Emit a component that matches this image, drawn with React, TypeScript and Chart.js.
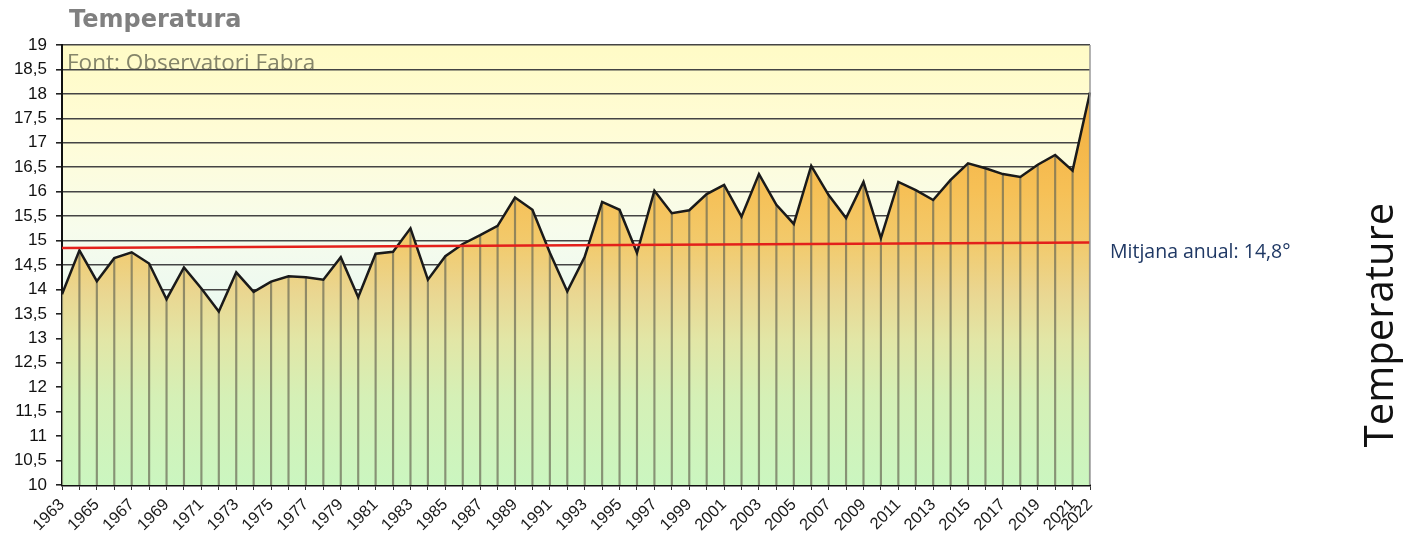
import React, { useEffect, useRef } from "react";
import { Chart, registerables } from "chart.js";

Chart.register(...registerables);

const years: string[] = [
  "1963", "1964", "1965", "1966", "1967", "1968", "1969", "1970", "1971", "1972",
  "1973", "1974", "1975", "1976", "1977", "1978", "1979", "1980", "1981", "1982",
  "1983", "1984", "1985", "1986", "1987", "1988", "1989", "1990", "1991", "1992",
  "1993", "1994", "1995", "1996", "1997", "1998", "1999", "2000", "2001", "2002",
  "2003", "2004", "2005", "2006", "2007", "2008", "2009", "2010", "2011", "2012",
  "2013", "2014", "2015", "2016", "2017", "2018", "2019", "2020", "2021", "2022",
];

const temperatures: number[] = [
  13.9, 14.8, 14.17, 14.64, 14.76, 14.53, 13.8, 14.45, 14.02, 13.55,
  14.35, 13.95, 14.16, 14.27, 14.25, 14.2, 14.66, 13.84, 14.73, 14.77,
  15.25, 14.2, 14.68, 14.93, 15.11, 15.3, 15.88, 15.63, 14.75, 13.96,
  14.67, 15.79, 15.63, 14.75, 16.02, 15.56, 15.62, 15.95, 16.14, 15.49,
  16.36, 15.73, 15.34, 16.53, 15.93, 15.46, 16.2, 15.05, 16.2, 16.03,
  15.83, 16.24, 16.58, 16.48, 16.36, 16.3, 16.55, 16.75, 16.43, 18.03,
];

// red average line end values (first and last year)
const meanStart = 14.85;
const meanEnd = 14.96;

const yMin = 10;
const yMax = 19;
const yStep = 0.5;

const titleText = "Temperatura";
const sourceText = "Font: Observatori Fabra";
const meanLabel = "Mitjana anual: 14,8°";
const sideLabel = "Temperature";

const meanLine: (number | null)[] = years.map((_, i) =>
  i === 0 ? meanStart : i === years.length - 1 ? meanEnd : null
);

const decorPlugin = {
  id: "decor",
  beforeDraw(chart: any) {
    const { ctx, chartArea: a } = chart;
    if (!a) return;
    ctx.save();
    const g = ctx.createLinearGradient(0, a.top, 0, a.bottom);
    g.addColorStop(0, "#fffbc6");
    g.addColorStop(0.2, "#fffcd6");
    g.addColorStop(0.42, "#f7fcec");
    g.addColorStop(0.58, "#ecf9f0");
    g.addColorStop(0.8, "#d9f6d0");
    g.addColorStop(1, "#c8f5bd");
    ctx.fillStyle = g;
    ctx.fillRect(a.left, a.top, a.right - a.left, a.bottom - a.top);
    ctx.font = '22.5px "Open Sans"';
    ctx.fillStyle = "#85856a";
    ctx.textAlign = "left";
    ctx.textBaseline = "alphabetic";
    ctx.fillText(sourceText, a.left + 5, a.top + 25);
    ctx.restore();
  },
  afterDraw(chart: any) {
    const { ctx, chartArea: a } = chart;
    if (!a) return;
    ctx.save();
    // right border
    ctx.strokeStyle = "#9a9a9a";
    ctx.lineWidth = 1.5;
    ctx.beginPath();
    ctx.moveTo(a.right, a.top);
    ctx.lineTo(a.right, a.bottom);
    ctx.stroke();
    // title
    ctx.font = 'bold 24px "DejaVu Sans"';
    ctx.fillStyle = "#808080";
    ctx.textAlign = "left";
    ctx.textBaseline = "alphabetic";
    ctx.fillText(titleText, a.left + 7, 27);
    // mean label
    const yMean = chart.scales.y.getPixelForValue(meanEnd);
    ctx.font = '19.5px "Open Sans"';
    ctx.fillStyle = "#1f3864";
    ctx.textBaseline = "middle";
    ctx.fillText(meanLabel, a.right + 20, yMean + 10);
    // vertical side label
    ctx.translate(chart.width - 13, 325);
    ctx.rotate(-Math.PI / 2);
    ctx.font = '40px "Open Sans"';
    ctx.fillStyle = "#111111";
    ctx.textAlign = "center";
    ctx.textBaseline = "alphabetic";
    ctx.fillText(sideLabel, 0, 0);
    ctx.restore();
  },
};

function areaFill(context: any) {
  const chart = context.chart;
  const a = chart.chartArea;
  if (!a) return "#f5c05a";
  const g = chart.ctx.createLinearGradient(0, a.top, 0, a.bottom);
  g.addColorStop(0, "#f2a636");
  g.addColorStop(0.12, "#f4ae3e");
  g.addColorStop(0.33, "#f6c056");
  g.addColorStop(0.45, "#f2ca6c");
  g.addColorStop(0.56, "#ead690");
  g.addColorStop(0.67, "#e2e6a6");
  g.addColorStop(0.8, "#d5f0b6");
  g.addColorStop(1, "#cbf6c0");
  return g;
}

export default function App() {
  const canvasRef = useRef<HTMLCanvasElement | null>(null);

  useEffect(() => {
    document.body.style.margin = "0";
    const canvas = canvasRef.current;
    if (!canvas) return;
    const chart = new Chart(canvas, {
      type: "line",
      data: {
        labels: years,
        datasets: [
          {
            type: "line",
            label: "Mitjana",
            data: meanLine,
            borderColor: "#e3201b",
            borderWidth: 2.5,
            pointRadius: 0,
            spanGaps: true,
            fill: false,
            order: 0,
          } as any,
          {
            type: "line",
            label: "Temperatura",
            data: temperatures,
            borderColor: "#1a1a1a",
            borderWidth: 2.5,
            backgroundColor: areaFill,
            fill: "start",
            pointRadius: 0,
            tension: 0,
            order: 1,
          } as any,
          {
            type: "bar",
            label: "drop",
            data: temperatures,
            backgroundColor: "rgba(105,105,85,0.7)",
            barThickness: 1.5,
            grouped: false,
            order: 2,
          } as any,
        ],
      },
      options: {
        animation: false,
        responsive: false,
        maintainAspectRatio: false,
        layout: { padding: { left: 0, top: 45, right: 316, bottom: 0 } },
        plugins: {
          legend: { display: false },
          tooltip: { enabled: false },
          title: { display: false },
          filler: { drawTime: "beforeDatasetsDraw" } as any,
        },
        scales: {
          x: {
            type: "category",
            offset: false,
            grid: {
              display: true,
              drawOnChartArea: false,
              drawTicks: true,
              tickLength: 5,
              tickColor: "#333333",
              offset: false,
            },
            border: { display: true, color: "#111111", width: 2.5 },
            ticks: {
              autoSkip: false,
              maxRotation: 45,
              minRotation: 45,
              padding: 5,
              color: "#1a1a1a",
              font: { family: '"Liberation Sans", Arial', size: 16.5 },
              callback: function (this: any, value: any, index: number) {
                const lab = years[index];
                const isLast = index === years.length - 1;
                return index % 2 === 0 || isLast ? lab : "";
              },
            },
            afterFit(scale: any) {
              scale.height = 50;
            },
          },
          y: {
            min: yMin,
            max: yMax,
            grid: {
              color: "#444444",
              lineWidth: 1.6,
              drawTicks: true,
              tickLength: 6,
              tickColor: "#222222",
            },
            border: { display: true, color: "#111111", width: 2 },
            ticks: {
              stepSize: yStep,
              padding: 9,
              color: "#111111",
              font: { family: '"Liberation Sans", Arial', size: 17 },
              callback: (v: any) => String(v).replace(".", ","),
            },
            afterFit(scale: any) {
              scale.width = 62;
            },
          },
        },
      },
      plugins: [decorPlugin],
    });
    return () => chart.destroy();
  }, []);

  return (
    <div style={{ width: 1406, height: 535, position: "relative", background: "#ffffff" }}>
      <canvas ref={canvasRef} width={1406} height={535} style={{ display: "block" }} />
    </div>
  );
}
